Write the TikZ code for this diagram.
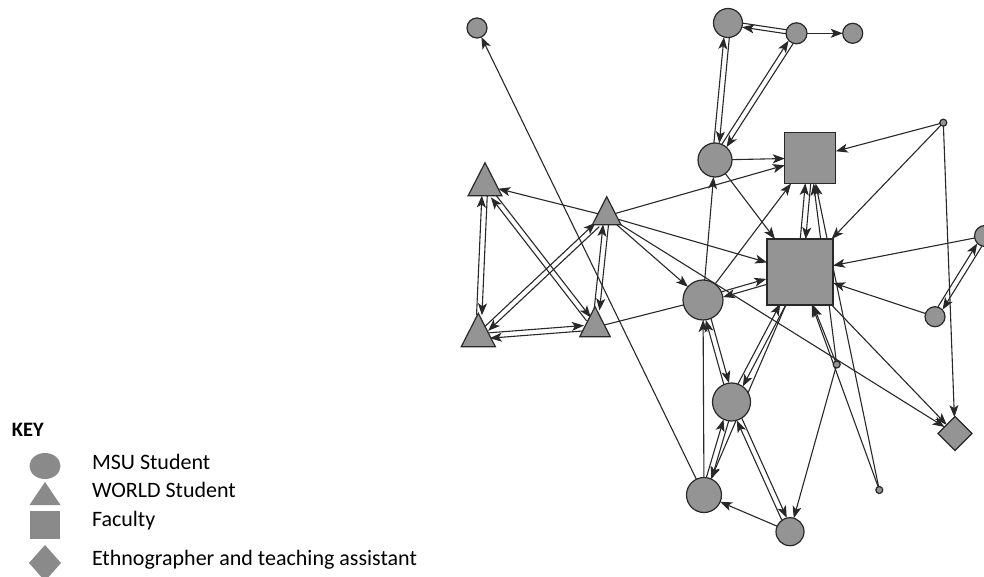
\documentclass[tikz,border=0pt]{standalone}
\usepackage{fontspec}
\setmainfont{Carlito}
\usetikzlibrary{shapes.geometric,arrows.meta,calc}
\pgfdeclarelayer{bg}
\pgfsetlayers{bg,main}
\definecolor{nodefill}{RGB}{148,148,148}
\definecolor{keyfill}{RGB}{138,138,138}
\definecolor{ln}{RGB}{40,40,40}
\newcommand\recip[2]{%
 \pgfmathanglebetweenpoints{\pgfpointanchor{#1}{center}}{\pgfpointanchor{#2}{center}}%
 \edef\recang{\pgfmathresult}%
 \draw[edge,transform canvas={shift={(\recang+90:2.7pt)}}] (#1) -- (#2);%
 \draw[edge,transform canvas={shift={(\recang-90:2.7pt)}}] (#2) -- (#1);%
}
\begin{document}
\begin{tikzpicture}[x=1pt,y=-1pt,
 every node/.style={inner sep=0pt, outer sep=0pt},
 actor/.style={circle, draw=ln, line width=1.2pt, fill=nodefill, minimum size=#1},
 fac/.style={rectangle, draw=ln, line width=1.2pt, fill=nodefill, minimum size=#1},
 wtri/.style={isosceles triangle, shape border rotate=90, isosceles triangle apex angle=54, draw=ln, line width=1.2pt, fill=nodefill, anchor=apex, minimum width=#1, minimum height=#1},
 eth/.style={diamond, draw=ln, line width=1.2pt, fill=nodefill, minimum size=#1},
 edge/.style={draw=ln, line width=1.1pt, -{Stealth[length=12pt,width=9pt,inset=3pt]}},
 plainedge/.style={draw=ln, line width=1.1pt},
 keysym/.style={fill=keyfill, draw=none},
 keytxt/.style={anchor=base west, font=\fontsize{22}{26}\selectfont}
]
\useasboundingbox (0,0) rectangle (984,577);

% nodes
\node[actor=20] (A) at (477,28) {};
\node[actor=29] (B) at (728,23) {};
\node[actor=21] (C) at (796.5,33.3) {};
\node[actor=20] (D) at (852.7,33.3) {};
\node[actor=34] (E) at (715,160) {};
\node[fac=51] (F) at (810.3,158) {};
\node[actor=7] (G) at (943.3,122.7) {};
\node[fac=66] (H) at (800,272) {};
\node[actor=21] (I) at (985,236) {};
\node[actor=20] (J) at (935,316.7) {};
\node[actor=40] (K) at (703,300) {};
\node[actor=7] (L) at (836.7,364.5) {};
\node[actor=38] (M) at (731.5,402) {};
\node[eth=34] (N) at (955,433.5) {};
\node[actor=7] (O) at (879.3,490) {};
\node[actor=35] (P) at (704,495) {};
\node[actor=28] (Q) at (790,531.7) {};
\node[wtri=33] (T1) at (485,162.7) {};
\node[wtri=28] (T2) at (606.7,196.7) {};
\node[wtri=33.5] (T3) at (478.3,313.3) {};
\node[wtri=30] (T4) at (595,306.7) {};

\begin{pgfonlayer}{bg}
% single edges
\draw[edge] (C) -- (D);
\draw[edge] (E) -- (F);
\draw[edge] (T2) -- (F);
\draw[edge] (G) -- (F);
\draw[edge] (K) -- (F);
\draw[edge] (O) -- (F);
\draw[edge] (L) -- (F);
\draw[edge] (E) -- (H);
\draw[edge] (T2) -- (H);
\draw[edge] (G) -- (H);
\draw[edge] (I) -- (H);
\draw[edge] (J) -- (H);
\draw[edge] (L) -- (H);
\draw[edge] (O) -- (H);
\draw[edge] (H) -- (N);
\draw[edge] (G) -- (N);
\draw[edge] (T2) -- (N);
\draw[edge] (T2) -- (K);
\draw[edge] (T2) -- (T1);
\draw[edge] (K) -- (E);
\draw[edge] (P) -- (K);
\draw[edge] (P) -- (A);
\draw[edge] (H) -- (P);
\draw[edge] (L) -- (Q);
\draw[edge] (Q) -- (P);
\draw[plainedge] (T4) -- (K);
% B - C pair
\pgfmathanglebetweenpoints{\pgfpointanchor{C}{center}}{\pgfpointanchor{B}{center}}
\edef\bcang{\pgfmathresult}
\draw[edge,transform canvas={shift={(\bcang+90:2pt)}}] (C) -- (B);
\draw[plainedge,transform canvas={shift={(\bcang-90:2pt)}}] (B) -- (C);
% reciprocal pairs
\recip{B}{E}
\recip{C}{E}
\recip{F}{H}
\recip{K}{H}
\recip{H}{M}
\recip{K}{M}
\recip{M}{P}
\recip{M}{Q}
\recip{I}{J}
\recip{T1}{T3}
\recip{T1}{T4}
\recip{T2}{T3}
\recip{T2}{T4}
\recip{T3}{T4}
\end{pgfonlayer}

% legend
\node[font=\bfseries\fontsize{20.5}{24}\selectfont, anchor=base west] (key) at (12,436) {KEY};
\node[keysym, ellipse, minimum width=31, minimum height=26] (k1) at (45,466) {};
\node[keysym, isosceles triangle, shape border rotate=90, isosceles triangle apex angle=68, minimum width=31, minimum height=23, anchor=apex] (k2) at (45,482) {};
\node[keysym, minimum width=30, minimum height=28] (k3) at (45,524.5) {};
\node[keysym, diamond, minimum width=32, minimum height=36] (k4) at (45,563) {};
\node[keytxt] (t1) at (92,469.3) {MSU Student};
\node[keytxt] (t2) at (92,497.3) {WORLD Student};
\node[keytxt] (t3) at (92,526.7) {Faculty};
\node[keytxt] (t4) at (92,565) {Ethnographer and teaching assistant};
\end{tikzpicture}
\end{document}
